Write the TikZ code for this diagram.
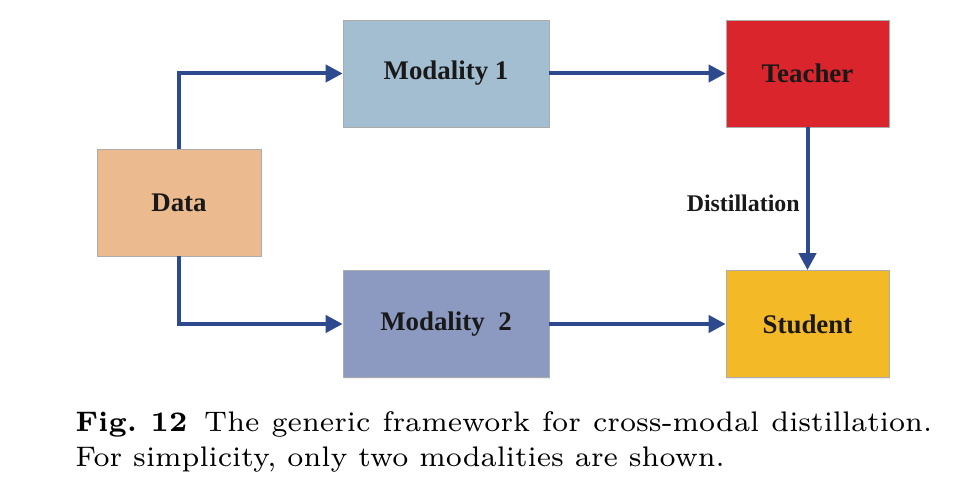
\documentclass[tikz,border=0pt]{standalone}
\usepackage{fontspec}
\newfontfamily\timesfont{Liberation Serif}
\newfontfamily\capfont{lmroman7}[Extension=.otf, UprightFont=*-regular, BoldFont=*-bold]
\usepackage{tikz}
\usetikzlibrary{arrows.meta,positioning,shadows}

\definecolor{dataorange}{HTML}{EBBA8F}
\definecolor{modblue}{HTML}{A3BDD1}
\definecolor{modviolet}{HTML}{8C9AC2}
\definecolor{teacherred}{HTML}{D9252B}
\definecolor{studentyellow}{HTML}{F4B927}
\definecolor{arrowblue}{HTML}{2E4A8F}

\begin{document}
\begin{tikzpicture}[
    x=0.02cm,
    y=-0.02cm,
    blk/.style={draw=gray!65, thin, inner sep=0pt, minimum height=2.14cm,
      drop shadow={shadow xshift=0.8pt, shadow yshift=-0.8pt, fill=black!12},
      font=\timesfont\bfseries\fontsize{15.3}{18}\selectfont, text=black!90},
    flow/.style={arrowblue, line width=0.08cm, -{Triangle[length=0.34cm, width=0.34cm]}},
    lab/.style={font=\timesfont\bfseries\fontsize{13.6}{16}\selectfont, text=black!90}
  ]
    \useasboundingbox (0,0) rectangle (978,502);
    \node[blk, fill=dataorange, minimum width=3.28cm] (data) at (179,202.5) {Data};
    \node[blk, fill=modblue, minimum width=4.12cm] (mod1) at (446,73.5) {Modality 1};
    \node[blk, fill=modviolet, minimum width=4.12cm] (mod2) at (446,324) {Modality\ \ 2};
    \node[blk, fill=teacherred, minimum width=3.26cm] (teacher) at (807.5,73.5) {Teacher};
    \node[blk, fill=studentyellow, minimum width=3.26cm] (student) at (807.5,324) {Student};
    \draw[flow] (data.north) |- (mod1.west);
    \draw[flow] (data.south) |- (mod2.west);
    \draw[flow] (mod1) -- (teacher);
    \draw[flow] (mod2) -- (student);
    \draw[flow] (teacher) -- node[lab, left, pos=0.53] {Distillation} (student);
    \node[anchor=north west, inner sep=0pt, align=left,
      font=\capfont\fontsize{16.1}{20}\selectfont] (caption) at (75,411)
      {\makebox[17.14cm][s]{\textbf{Fig.\ 12}\hspace{9.6pt}The generic framework for cross-modal distillation.}\\
       For simplicity, only two modalities are shown.};
\end{tikzpicture}
\end{document}
